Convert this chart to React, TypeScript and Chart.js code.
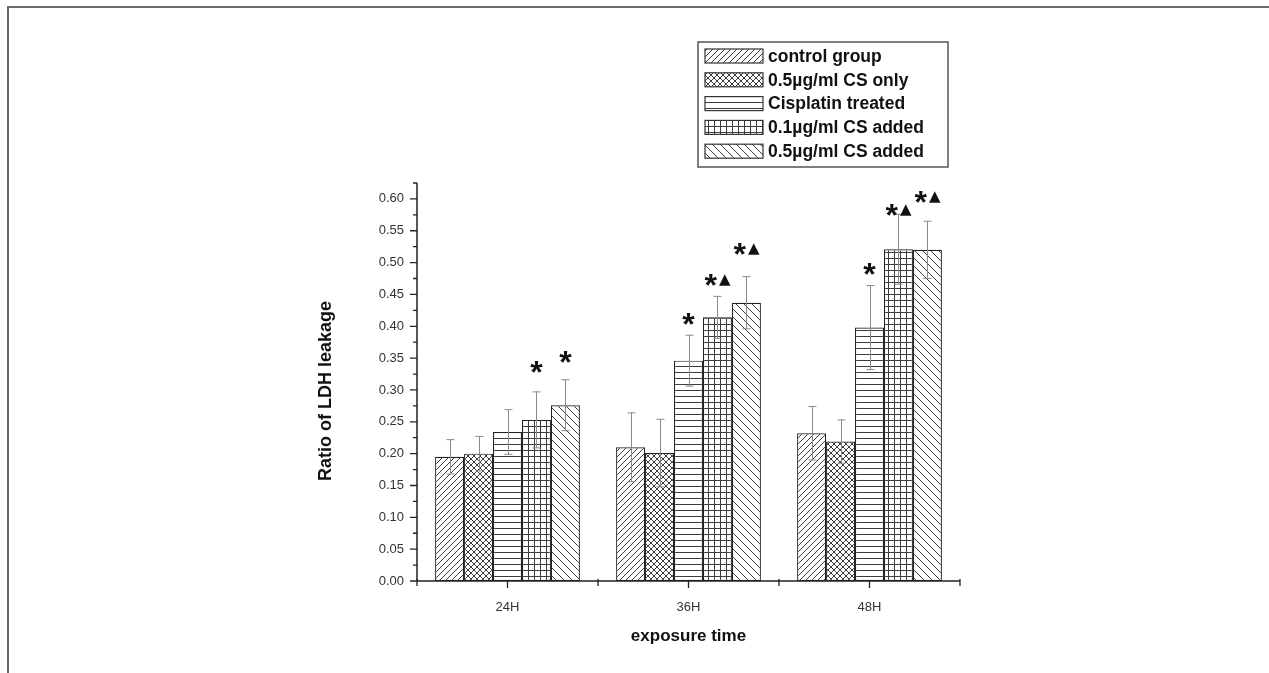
import React, { useEffect, useRef } from 'react';
import { Chart, registerables } from 'chart.js';
Chart.register(...registerables);

const categories = ['24H', '36H', '48H'];
const seriesNames = [
  'control group',
  '0.5\u00b5g/ml CS only',
  'Cisplatin treated',
  '0.1\u00b5g/ml CS added',
  '0.5\u00b5g/ml CS added',
];
const patternKinds = ['fwd', 'cross', 'horiz', 'grid', 'back'];

const controlValues = [0.195, 0.21, 0.232];
const csOnlyValues = [0.2, 0.201, 0.219];
const cisplatinValues = [0.234, 0.346, 0.398];
const cs01Values = [0.253, 0.414, 0.521];
const cs05Values = [0.276, 0.437, 0.52];

const controlErr = [0.027, 0.054, 0.042];
const csOnlyErr = [0.027, 0.053, 0.034];
const cisplatinErr = [0.035, 0.04, 0.066];
const cs01Err = [0.044, 0.033, 0.055];
const cs05Err = [0.04, 0.041, 0.045];

// significance marks: star / triangle and the value level at which they sit
const controlMarks = ['', '', ''];
const csOnlyMarks = ['', '', ''];
const cisplatinMarks = ['', '*', '*'];
const cs01Marks = ['*', '*\u25b2', '*\u25b2'];
const cs05Marks = ['*', '*\u25b2', '*\u25b2'];
const controlMarkLevels = [0, 0, 0];
const csOnlyMarkLevels = [0, 0, 0];
const cisplatinMarkLevels = [0, 0.412, 0.49];
const cs01MarkLevels = [0.336, 0.472, 0.583];
const cs05MarkLevels = [0.352, 0.521, 0.603];

const yMajorTicks = [0, 0.05, 0.1, 0.15, 0.2, 0.25, 0.3, 0.35, 0.4, 0.45, 0.5, 0.55, 0.6];
const yMinorTicks = [0.025, 0.075, 0.125, 0.175, 0.225, 0.275, 0.325, 0.375, 0.425, 0.475, 0.525, 0.575, 0.625];
const yMin = 0;
const yMax = 0.625;

const xTitle = 'exposure time';
const yTitle = 'Ratio of LDH leakage';

const allValues = [controlValues, csOnlyValues, cisplatinValues, cs01Values, cs05Values];
const allErr = [controlErr, csOnlyErr, cisplatinErr, cs01Err, cs05Err];
const allMarks = [controlMarks, csOnlyMarks, cisplatinMarks, cs01Marks, cs05Marks];
const allMarkLevels = [controlMarkLevels, csOnlyMarkLevels, cisplatinMarkLevels, cs01MarkLevels, cs05MarkLevels];

const W = 1269;
const H = 673;

function makePattern(kind: string): CanvasPattern | string {
  const s = kind === 'back' ? 8 : 6;
  const c = document.createElement('canvas');
  c.width = s;
  c.height = s;
  const g = c.getContext('2d')!;
  g.fillStyle = '#ffffff';
  g.fillRect(0, 0, s, s);
  g.strokeStyle = '#3c3c3c';
  g.lineWidth = 1;
  g.beginPath();
  if (kind === 'fwd' || kind === 'cross') {
    g.moveTo(0, s); g.lineTo(s, 0);
    g.moveTo(-1, 1); g.lineTo(1, -1);
    g.moveTo(s - 1, s + 1); g.lineTo(s + 1, s - 1);
  }
  if (kind === 'back' || kind === 'cross') {
    g.moveTo(0, 0); g.lineTo(s, s);
    g.moveTo(-1, s - 1); g.lineTo(1, s + 1);
    g.moveTo(s - 1, -1); g.lineTo(s + 1, 1);
  }
  if (kind === 'horiz' || kind === 'grid') {
    g.moveTo(0, 0.5); g.lineTo(s, 0.5);
  }
  if (kind === 'grid') {
    g.moveTo(0.5, 0); g.lineTo(0.5, s);
  }
  g.stroke();
  const p = g.createPattern(c, 'repeat');
  return p || '#fff';
}

export default function App() {
  const ref = useRef<HTMLCanvasElement>(null);
  useEffect(() => {
    const canvas = ref.current!;
    const patterns = patternKinds.map(makePattern);

    const decorPlugin = {
      id: 'decor',
      beforeDraw(chart: any) {
        const ctx = chart.ctx;
        ctx.save();
        ctx.fillStyle = '#ffffff';
        ctx.fillRect(0, 0, W, H);
        ctx.strokeStyle = '#6a6a6a';
        ctx.lineWidth = 2;
        ctx.beginPath();
        ctx.moveTo(8, H);
        ctx.lineTo(8, 7);
        ctx.lineTo(W, 7);
        ctx.stroke();
        ctx.restore();
      },
      afterDatasetsDraw(chart: any) {
        const ctx = chart.ctx;
        const xs = chart.scales.x;
        const ys = chart.scales.y;
        const area = chart.chartArea;
        ctx.save();
        // error bars
        ctx.strokeStyle = '#8a8a8a';
        ctx.lineWidth = 1;
        allValues.forEach((vals, i) => {
          const meta = chart.getDatasetMeta(i);
          vals.forEach((v, j) => {
            const x = Math.round(meta.data[j].x) + 0.5;
            const t = ys.getPixelForValue(v + allErr[i][j]);
            const b = ys.getPixelForValue(v - allErr[i][j]);
            ctx.beginPath();
            ctx.moveTo(x, t); ctx.lineTo(x, b);
            ctx.moveTo(x - 4, t); ctx.lineTo(x + 4, t);
            ctx.moveTo(x - 4, b); ctx.lineTo(x + 4, b);
            ctx.stroke();
          });
        });
        // axes
        ctx.strokeStyle = '#222';
        ctx.lineWidth = 1.5;
        ctx.beginPath();
        ctx.moveTo(area.left, area.top);
        ctx.lineTo(area.left, area.bottom);
        ctx.lineTo(area.right, area.bottom);
        ctx.stroke();
        ctx.lineWidth = 1.3;
        ctx.beginPath();
        yMajorTicks.forEach((v) => {
          const y = ys.getPixelForValue(v);
          ctx.moveTo(area.left, y); ctx.lineTo(area.left - 7, y);
        });
        yMinorTicks.forEach((v) => {
          const y = ys.getPixelForValue(v);
          ctx.moveTo(area.left, y); ctx.lineTo(area.left - 4, y);
        });
        const n = categories.length;
        const cw = (area.right - area.left) / n;
        for (let k = 0; k <= n; k++) {
          const x = area.left + k * cw;
          ctx.moveTo(x, area.bottom - 2); ctx.lineTo(x, area.bottom + 5);
        }
        categories.forEach((_, k) => {
          const x = xs.getPixelForValue(k);
          ctx.moveTo(x, area.bottom); ctx.lineTo(x, area.bottom + 7);
        });
        ctx.stroke();

        // significance marks
        ctx.fillStyle = '#111';
        allMarks.forEach((marks, i) => {
          const meta = chart.getDatasetMeta(i);
          marks.forEach((m, j) => {
            if (!m) return;
            const cx = meta.data[j].x;
            const cy = ys.getPixelForValue(allMarkLevels[i][j]);
            const parts = Array.from(m);
            const fonts = parts.map((p) => (p === '*' ? 'bold 32px "Liberation Sans", Arial, sans-serif' : '15px "DejaVu Sans", sans-serif'));
            const widths = parts.map((p, q) => { ctx.font = fonts[q]; return ctx.measureText(p).width; });
            const gap = parts.length > 1 ? 2 : 0;
            const total = widths.reduce((a, b) => a + b, 0) + gap * (parts.length - 1);
            let x0 = cx - total / 2;
            ctx.textAlign = 'left';
            ctx.textBaseline = 'alphabetic';
            parts.forEach((p, q) => {
              ctx.font = fonts[q];
              const mt = ctx.measureText(p);
              const yb = cy + (mt.actualBoundingBoxAscent - mt.actualBoundingBoxDescent) / 2;
              ctx.fillText(p, x0, yb);
              x0 += widths[q] + gap;
            });
          });
        });

        // axis titles
        ctx.fillStyle = '#111';
        ctx.textAlign = 'center';
        ctx.textBaseline = 'middle';
        ctx.font = 'bold 17px "Liberation Sans", Arial, sans-serif';
        ctx.fillText(xTitle, (area.left + area.right) / 2, 636);
        ctx.save();
        ctx.translate(326, 391);
        ctx.rotate(-Math.PI / 2);
        ctx.font = 'bold 18px "Liberation Sans", Arial, sans-serif';
        ctx.fillText(yTitle, 0, 0);
        ctx.restore();

        // legend
        const lx = 698, ly = 42, lw = 250, lh = 125;
        ctx.strokeStyle = '#555';
        ctx.lineWidth = 1.5;
        ctx.strokeRect(lx, ly, lw, lh);
        seriesNames.forEach((name, i) => {
          const cy = 56 + i * 23.8;
          ctx.fillStyle = patterns[i];
          ctx.fillRect(705, cy - 7, 58, 14);
          ctx.strokeStyle = '#333';
          ctx.lineWidth = 1.2;
          ctx.strokeRect(705, cy - 7, 58, 14);
          ctx.fillStyle = '#111';
          ctx.font = 'bold 17.5px "Liberation Sans", Arial, sans-serif';
          ctx.textAlign = 'left';
          ctx.textBaseline = 'middle';
          ctx.fillText(name, 768, cy + 1);
        });
        ctx.restore();
      },
    };

    const tickFont = { family: '"Liberation Sans", Arial, sans-serif', size: 13 };
    const chart = new Chart(canvas, {
      type: 'bar',
      data: {
        labels: categories,
        datasets: seriesNames.map((name, i) => ({
          label: name,
          data: allValues[i],
          backgroundColor: patterns[i] as any,
          borderColor: '#222',
          borderWidth: 1.2,
          borderSkipped: false,
          categoryPercentage: 0.8,
          barPercentage: 1,
        })),
      },
      options: {
        animation: false,
        responsive: false,
        layout: { padding: { left: 0, right: 309, top: 183, bottom: 0 } },
        plugins: { legend: { display: false }, tooltip: { enabled: false } },
        scales: {
          x: {
            type: 'category',
            offset: true,
            grid: { display: false, drawTicks: false },
            border: { display: false },
            ticks: { font: tickFont, color: '#333', padding: 19 },
            afterFit: (s: any) => { s.height = 92; },
          },
          y: {
            type: 'linear',
            min: yMin,
            max: yMax,
            grid: { display: false, drawTicks: false },
            border: { display: false },
            ticks: {
              font: tickFont,
              color: '#333',
              padding: 13,
              callback: (v: any) => Number(v).toFixed(2),
            },
            afterBuildTicks: (s: any) => { s.ticks = yMajorTicks.map((v) => ({ value: v })); },
            afterFit: (s: any) => { s.width = 417; },
          },
        },
      },
      plugins: [decorPlugin],
    });
    return () => chart.destroy();
  }, []);

  return (
    <div style={{ position: 'fixed', left: 0, top: 0, width: W, height: H, background: '#fff' }}>
      <canvas ref={ref} width={W} height={H} style={{ display: 'block' }} />
    </div>
  );
}
